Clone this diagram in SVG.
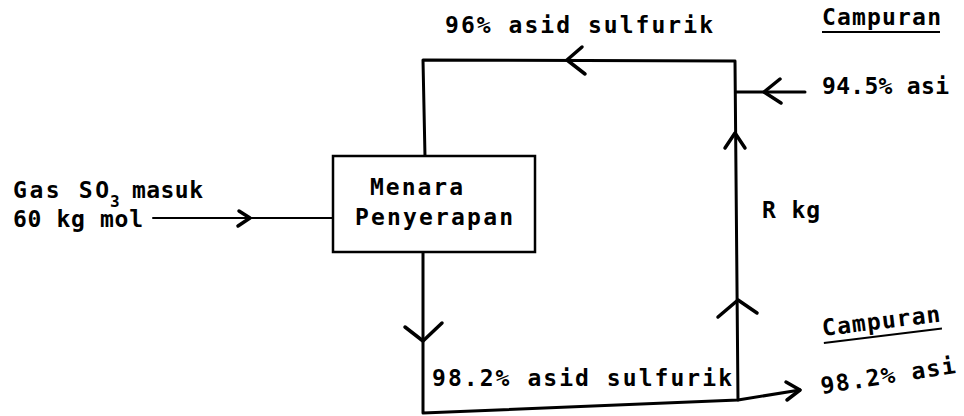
<svg xmlns="http://www.w3.org/2000/svg" width="964" height="416" viewBox="0 0 964 416">
<style>
  text { font-family: "DejaVu Sans Mono", "Liberation Mono", monospace; font-weight: bold; font-size: 23px; fill: #000; }
  .sub { font-size: 16px; }
  .ln { fill: none; stroke: #000; stroke-width: 3; stroke-linecap: round; stroke-linejoin: round; }
  .ah { fill: none; stroke: #000; stroke-width: 3.5; stroke-linecap: round; stroke-linejoin: round; }
  .box { fill: #fff; stroke: #000; stroke-width: 2.5; }
  .ul { stroke: #000; stroke-width: 2; }
</style>
<rect width="964" height="416" fill="#fff"/>

<g id="connectors">
  <path class="ln" d="M425,157 L423,60 L735,61 L738,400"/>
  <path class="ln" d="M805,92 L736,92"/>
  <path class="ln" d="M153,218 L333,218" style="stroke-width:2"/>
  <path class="ln" d="M423,252 L423,413 L738,400 L800,390"/>
  <polyline class="ah" points="582,47 567,60 585,74"/>
  <polyline class="ah" points="780,79 764,92 781,103"/>
  <polyline class="ah" points="725,148 735,133 745,148"/>
  <polyline class="ah" points="718,317 738,300 757,313"/>
  <polyline class="ah" points="402,167 425,157 457,168"/>
  <line class="ah" x1="425" y1="157" x2="425" y2="171"/>
  <polyline class="ah" points="239,211 250,218 238,226"/>
  <polyline class="ah" points="405,327 423,341 442,323"/>
  <polyline class="ah" points="786,382 800,390 787,400"/>
</g>

<g id="node-tower">
  <rect class="box" x="333" y="156" width="202" height="96"/>
  <text x="370" y="195" textLength="93" lengthAdjust="spacing">Menara</text>
  <text x="355" y="225" textLength="158" lengthAdjust="spacing">Penyerapan</text>
</g>

<g id="node-so3-feed">
  <text x="13" y="198" textLength="96" lengthAdjust="spacing">Gas SO</text>
  <text class="sub" x="110" y="207">3</text>
  <text x="132" y="198" textLength="71" lengthAdjust="spacing">masuk</text>
  <text x="13" y="227" textLength="130" lengthAdjust="spacing">60 kg mol</text>
</g>

<g id="node-recycle-label">
  <text x="445" y="33" textLength="268" lengthAdjust="spacing">96% asid sulfurik</text>
</g>

<g id="node-feed-mix">
  <text x="822" y="25" textLength="119" lengthAdjust="spacing">Campuran</text>
  <line class="ul" x1="822" y1="32" x2="940" y2="32"/>
  <text x="822" y="94" textLength="127" lengthAdjust="spacing">94.5% asi</text>
</g>

<g id="node-r">
  <text x="762" y="218" textLength="58" lengthAdjust="spacing">R kg</text>
</g>

<g id="node-bottom-label">
  <text x="432" y="386" textLength="300" lengthAdjust="spacing">98.2% asid sulfurik</text>
</g>

<g id="node-product-mix">
  <g transform="rotate(-7 823 336)">
    <text x="823" y="336" textLength="119" lengthAdjust="spacing">Campuran</text>
    <line class="ul" x1="823" y1="343" x2="942" y2="343"/>
  </g>
  <text x="822" y="394" transform="rotate(-9 822 394)" textLength="136" lengthAdjust="spacing">98.2% asi</text>
</g>
</svg>
